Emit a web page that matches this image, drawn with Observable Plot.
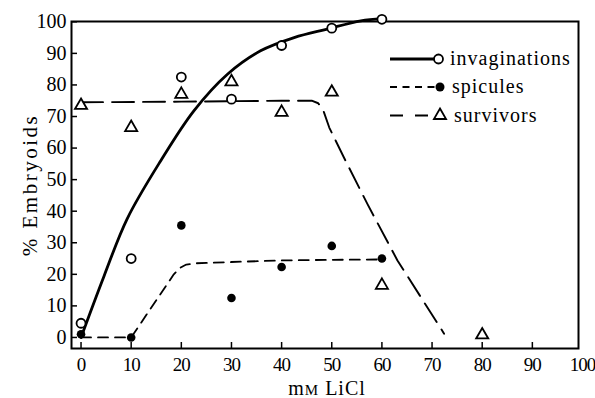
<!DOCTYPE html>
<html>
<head>
<meta charset="utf-8">
<script src="https://cdn.jsdelivr.net/npm/d3@7"></script>
<script src="https://cdn.jsdelivr.net/npm/@observablehq/plot@0.6"></script>
<style>
  html, body { margin: 0; padding: 0; background: white; }
</style>
</head>
<body>
<div id="chart"></div>
<script>
// ---- data ----
const doses = [0, 10, 20, 30, 40, 50, 60];
const invaginationPct = [4.5, 25, 82.5, 75.5, 92.5, 98, 100.8];
const spiculePct = [1, 0, 35.5, 12.5, 22.3, 29, 25];
const survivorDoses = [0, 10, 20, 30, 40, 50, 60, 80];
const survivorPct = [73.5, 66.5, 77, 81, 71.3, 77.7, 16.5, 0.8];

// fitted curves as drawn in the reference
const invagCurveX = [0, 4.6, 9.2, 15.9, 22.5, 29.2, 35.8, 42.5, 49.1, 55.8, 60];
const invagCurveY = [0, 19.5, 37.6, 56, 71.8, 83.4, 90.8, 95, 97.7, 100.3, 101];
const spicCurveX = [0, 10, 18.5, 19.7, 21, 23, 30, 40, 50, 60];
const spicCurveY = [0, 0, 20, 22, 23.1, 23.5, 23.9, 24.4, 24.6, 24.7];
const survCurveX = [0, 20, 40, 46, 47.3, 48.3, 49.5, 52.4, 57.1, 63.1, 72.4];
const survCurveY = [74.5, 74.7, 75, 75, 74.2, 72, 66.5, 57.1, 42.3, 24.4, 1.2];

const xTicks = [0, 10, 20, 30, 40, 50, 60, 70, 80, 90, 100];
const yTicks = [0, 10, 20, 30, 40, 50, 60, 70, 80, 90, 100];
const legendNames = ["invaginations", "spicules", "survivors"];

const zip = (xs, ys) => xs.map((x, i) => ({x, y: ys[i]}));
const invagPts = zip(doses, invaginationPct);
const spicPts = zip(doses, spiculePct);
const survPts = zip(survivorDoses, survivorPct);

const chart = Plot.plot({
  width: 595,
  height: 398,
  marginLeft: 71,
  marginRight: 13,
  marginTop: 21,
  marginBottom: 50,
  style: {fontFamily: "'Liberation Serif', 'Times New Roman', serif", background: "white", color: "black"},
  x: {domain: [-1.9, 100]},
  y: {domain: [-3.5, 100.1]},
  marks: [
    Plot.frame({stroke: "black", strokeWidth: 2, insetRight: 4}),
    Plot.axisX(xTicks, {tickSize: 0, tickPadding: 9, fontSize: 19, label: "mM LiCl", labelAnchor: "center", labelArrow: "none", labelOffset: 46}),
    Plot.axisX(xTicks.filter(d => d < 100), {tickSize: -6, tickFormat: () => "", label: null, strokeWidth: 1.5}),
    Plot.axisY(yTicks, {tickSize: 0, tickPadding: 5, fontSize: 20, label: "% Embryoids", labelAnchor: "center", labelArrow: "none", labelOffset: 49}),
    Plot.axisY(yTicks, {tickSize: -6, tickFormat: () => "", label: null, strokeWidth: 1.5}),
    Plot.line(zip(invagCurveX, invagCurveY), {x: "x", y: "y", curve: "catmull-rom", stroke: "black", strokeWidth: 2.8}),
    Plot.line(zip(spicCurveX, spicCurveY), {x: "x", y: "y", curve: "linear", stroke: "black", strokeWidth: 1.8, strokeDasharray: "10,7"}),
    Plot.line(zip(survCurveX, survCurveY), {x: "x", y: "y", curve: "linear", stroke: "black", strokeWidth: 1.9, strokeDasharray: "22,9"}),
    Plot.dot(invagPts, {x: "x", y: "y", r: 4.5, symbol: "circle", stroke: "black", strokeWidth: 1.8, fill: "white"}),
    Plot.dot(spicPts, {x: "x", y: "y", r: 4.3, symbol: "circle", fill: "black", stroke: "none"}),
    Plot.dot(survPts, {x: "x", y: "y", r: 4.5, symbol: "triangle", stroke: "black", strokeWidth: 1.8, fill: "white"})
  ]
});

document.getElementById("chart").appendChild(chart);

const svg = d3.select(chart.tagName.toLowerCase() === "svg" ? chart : chart.querySelector("svg"));

// axis text styling
svg.selectAll("g[aria-label='x-axis tick label'] text").style("letter-spacing", "-1px");
svg.selectAll("text").each(function() {
  const t = d3.select(this);
  const s = this.textContent;
  if (s === "mM LiCl") {
    t.text(null).attr("font-size", 20).style("letter-spacing", "1px");
    t.append("tspan").text("m");
    t.append("tspan").attr("font-size", 15).text("M");
    t.append("tspan").text(" LiCl");
  } else if (s === "% Embryoids") {
    t.attr("font-size", 21).style("letter-spacing", "2.5px");
  }
});

// legend (top right, inside the frame)
const legendRows = [59, 87, 115.5];
const lg = svg.append("g").attr("class", "legend").attr("text-anchor", "start");
legendNames.forEach((name, i) => {
  const y = legendRows[i];
  const g = lg.append("g");
  const line = g.append("line").attr("x1", 390).attr("x2", 439).attr("y1", y).attr("y2", y)
    .attr("stroke", "black");
  if (i === 0) line.attr("stroke-width", 2.8);
  if (i === 1) line.attr("stroke-width", 1.8).attr("stroke-dasharray", "7,5.5");
  if (i === 2) line.attr("stroke-width", 1.9).attr("stroke-dasharray", "13,12");
  const sym = d3.symbol().type(i === 2 ? d3.symbolTriangle : d3.symbolCircle).size(Math.PI * 4.5 * 4.5);
  const p = g.append("path").attr("d", sym()).attr("transform", `translate(${i === 0 ? 438.5 : 440},${y})`);
  if (i === 1) p.attr("fill", "black");
  else p.attr("fill", "white").attr("stroke", "black").attr("stroke-width", 1.8);
  g.append("text").attr("x", 450 + i * 2).attr("y", y).attr("dy", "0.3em")
    .attr("text-anchor", "start")
    .attr("font-size", 20).style("letter-spacing", "1px").attr("fill", "black")
    .text(name);
});
</script>
</body>
</html>
